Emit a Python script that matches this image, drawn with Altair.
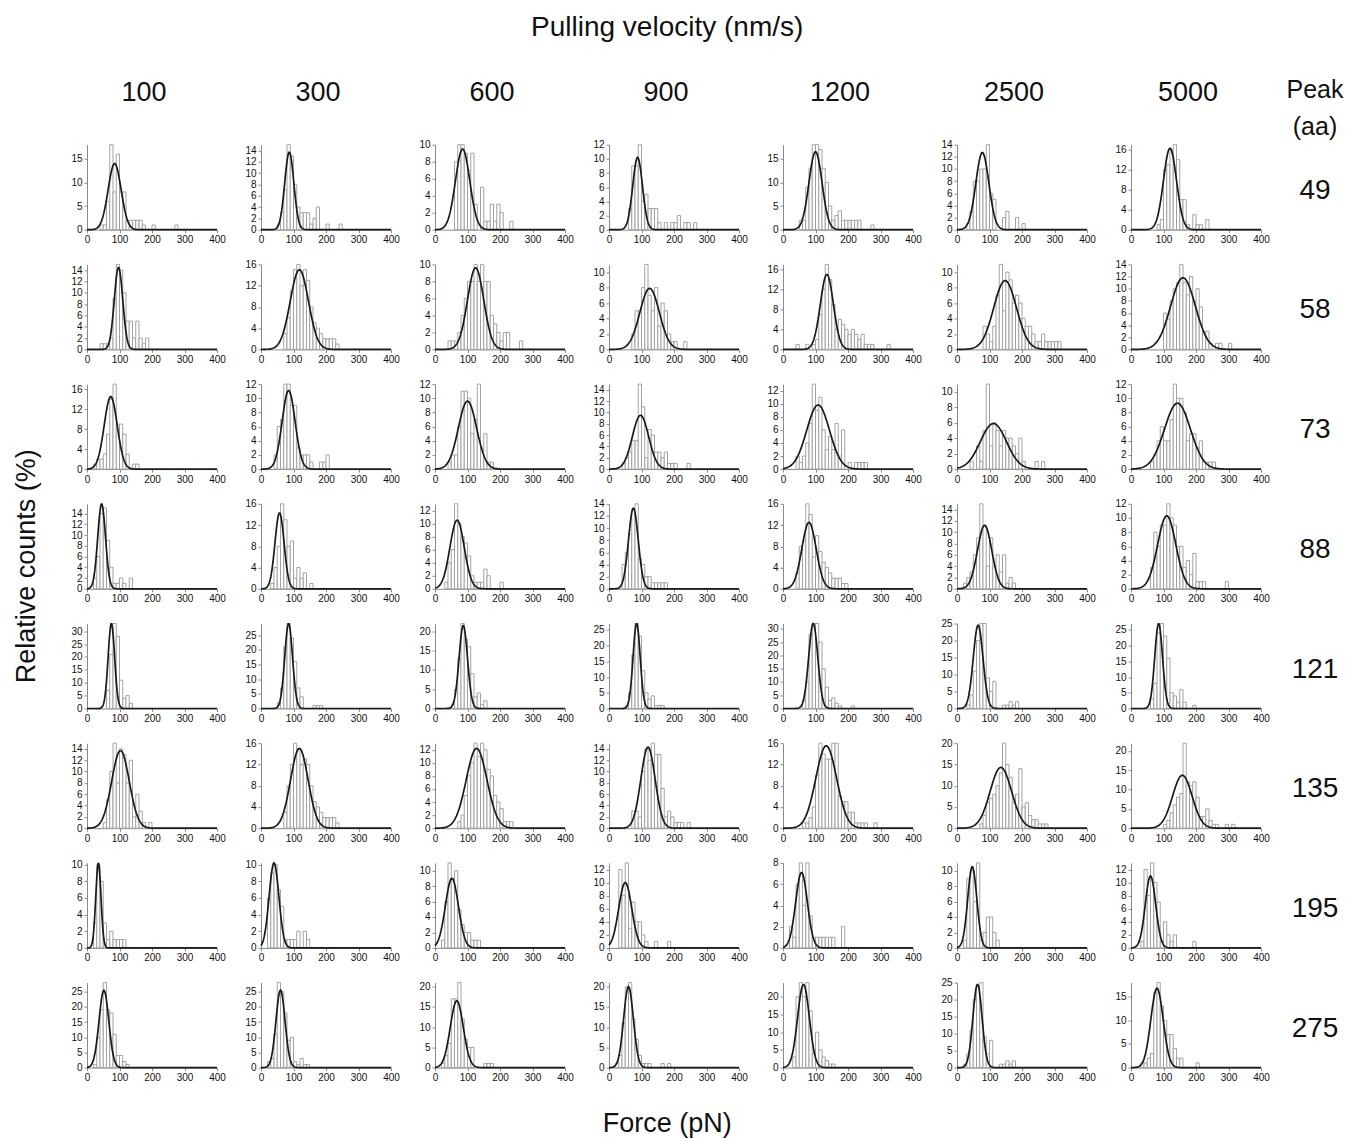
import altair as alt
import pandas as pd

FONT = "Liberation Sans"

VELOCITIES = ["100", "300", "600", "900", "1200", "2500", "5000"]
PEAKS = ["49", "58", "73", "88", "121", "135", "195", "275"]
X_TICKS = [0, 100, 200, 300, 400]
BIN = 10  # pN bin width

# relative counts (%) per 10-pN bin: {bin start (pN): percent}, one dict per velocity
HIST_49 = [
    {40: 1, 50: 1, 60: 6, 70: 18, 80: 8, 90: 16, 100: 8, 110: 8, 120: 2, 130: 2, 140: 2, 150: 2, 160: 2, 170: 1, 200: 1, 270: 1},
    {50: 1, 60: 3, 70: 7, 80: 15, 90: 13, 100: 8, 110: 4, 120: 3, 130: 3, 140: 3, 150: 1, 160: 2, 170: 4, 200: 1, 240: 1},
    {60: 8, 70: 10, 80: 10, 90: 9, 100: 7, 110: 9, 120: 3, 140: 5, 150: 1, 160: 1, 170: 3, 180: 1, 190: 3, 200: 2, 230: 1},
    {60: 3, 70: 9, 80: 9, 90: 12, 100: 4, 110: 5, 120: 3, 130: 3, 140: 3, 150: 1, 170: 1, 190: 1, 200: 1, 210: 2, 230: 1, 240: 1, 260: 1},
    {50: 2, 60: 2, 70: 9, 80: 13, 90: 18, 100: 18, 110: 17, 120: 13, 130: 10, 140: 5, 150: 2, 160: 3, 170: 4, 180: 2, 190: 2, 200: 2, 210: 2, 220: 2, 230: 2, 270: 1},
    {30: 1, 40: 3, 50: 8, 60: 8, 70: 10, 80: 10, 90: 14, 100: 6, 110: 5, 140: 2, 150: 3, 180: 2, 200: 1},
    {80: 1, 90: 2, 100: 12, 110: 13, 120: 16, 130: 17, 140: 14, 150: 6, 160: 6, 170: 1, 190: 3, 200: 1, 210: 1, 230: 2},
]
HIST_58 = [
    {40: 1, 50: 1, 60: 1, 70: 2, 80: 9, 90: 15, 100: 14, 110: 10, 120: 5, 130: 5, 140: 2, 150: 5, 160: 2, 170: 1, 180: 2},
    {70: 3, 80: 6, 90: 11, 100: 15, 110: 16, 120: 12, 130: 15, 140: 13, 150: 8, 160: 5, 170: 4, 180: 3, 190: 2, 200: 2, 210: 2, 220: 2, 230: 1},
    {40: 1, 50: 1, 60: 1, 70: 2, 80: 4, 90: 6, 100: 8, 110: 8, 120: 10, 130: 8, 140: 10, 150: 8, 160: 8, 170: 4, 180: 3, 190: 2, 200: 1, 210: 2, 220: 2, 260: 1},
    {70: 2, 80: 5, 90: 5, 100: 8, 110: 11, 120: 7, 130: 5, 140: 8, 150: 3, 160: 6, 170: 5, 180: 2, 190: 1, 200: 1, 230: 1},
    {40: 1, 70: 1, 90: 1, 100: 2, 110: 7, 120: 12, 130: 17, 140: 14, 150: 9, 160: 4, 170: 6, 180: 5, 190: 4, 200: 3, 210: 4, 220: 3, 230: 2, 240: 3, 250: 1, 260: 1, 270: 1, 320: 1},
    {80: 3, 90: 2, 100: 1, 110: 3, 120: 7, 130: 11, 140: 5, 150: 10, 160: 9, 170: 6, 180: 7, 190: 6, 200: 4, 210: 3, 220: 3, 230: 2, 240: 1, 250: 1, 260: 2, 270: 1, 280: 1, 290: 1, 300: 1, 310: 1},
    {100: 6, 110: 5, 120: 8, 130: 10, 140: 11, 150: 14, 160: 11, 170: 9, 180: 12, 190: 8, 200: 10, 210: 7, 220: 3, 230: 3, 240: 1, 260: 1, 270: 1, 300: 1},
]
HIST_73 = [
    {20: 1, 30: 2, 40: 2, 50: 3, 60: 7, 70: 14, 80: 17, 90: 9, 100: 9, 110: 7, 120: 3, 140: 1, 150: 1},
    {40: 2, 50: 6, 60: 7, 70: 12, 80: 12, 90: 9, 100: 9, 110: 3, 120: 2, 130: 2, 140: 2, 150: 1, 180: 1, 190: 1, 200: 2},
    {40: 1, 50: 2, 60: 2, 70: 6, 80: 11, 90: 11, 100: 10, 110: 5, 120: 7, 130: 12, 140: 3, 150: 5, 160: 1, 170: 1},
    {40: 1, 50: 2, 60: 3, 70: 5, 80: 5, 90: 15, 100: 11, 110: 2, 120: 7, 130: 6, 140: 3, 150: 3, 160: 2, 170: 3, 180: 1, 190: 1, 200: 1, 240: 1},
    {40: 2, 50: 1, 60: 2, 70: 4, 80: 7, 90: 13, 100: 9, 110: 11, 120: 6, 130: 3, 140: 5, 150: 3, 160: 7, 170: 2, 180: 6, 200: 1, 220: 1, 230: 1, 240: 1, 250: 1},
    {40: 1, 60: 3, 70: 1, 80: 5, 90: 11, 100: 3, 110: 6, 120: 5, 130: 3, 140: 5, 150: 4, 160: 4, 170: 3, 180: 2, 190: 4, 200: 1, 240: 1, 260: 1},
    {60: 1, 70: 2, 80: 4, 90: 6, 100: 4, 110: 4, 120: 7, 130: 12, 140: 10, 150: 10, 160: 8, 170: 4, 180: 5, 190: 5, 200: 3, 210: 4, 220: 1, 230: 1, 240: 1, 250: 1},
]
HIST_88 = [
    {20: 2, 30: 6, 40: 14, 50: 15, 60: 9, 70: 4, 80: 1, 90: 1, 100: 2, 110: 1, 130: 2},
    {30: 1, 40: 4, 50: 8, 60: 16, 70: 13, 80: 8, 90: 9, 100: 2, 110: 4, 120: 2, 130: 3, 150: 1},
    {30: 1, 40: 4, 50: 6, 60: 13, 70: 10, 80: 8, 90: 7, 100: 5, 110: 2, 120: 1, 130: 1, 140: 1, 150: 3, 160: 2, 200: 1},
    {40: 4, 50: 6, 60: 9, 70: 13, 80: 14, 90: 5, 100: 4, 110: 2, 120: 2, 130: 1, 140: 1, 150: 1, 160: 1, 170: 1},
    {40: 3, 50: 8, 60: 9, 70: 16, 80: 14, 90: 6, 100: 10, 110: 7, 120: 5, 130: 4, 140: 3, 150: 2, 160: 2, 170: 2, 180: 1, 190: 1},
    {20: 1, 30: 2, 40: 3, 50: 6, 60: 9, 70: 15, 80: 11, 90: 4, 100: 9, 110: 4, 120: 6, 130: 3, 140: 6, 150: 1, 160: 2, 170: 1},
    {60: 3, 70: 8, 80: 6, 90: 9, 100: 9, 110: 12, 120: 10, 130: 9, 140: 6, 150: 6, 160: 3, 170: 4, 180: 2, 190: 5, 200: 1, 210: 1, 220: 1, 290: 1},
]
HIST_121 = [
    {60: 7, 70: 21, 80: 33, 90: 28, 100: 11, 110: 4, 120: 5, 130: 2},
    {50: 2, 60: 7, 70: 21, 80: 29, 90: 24, 100: 16, 110: 7, 120: 4, 160: 1, 170: 1, 180: 1},
    {50: 1, 60: 5, 70: 13, 80: 22, 90: 18, 100: 16, 110: 9, 120: 3, 130: 4, 140: 1, 150: 2},
    {50: 1, 60: 5, 70: 17, 80: 27, 90: 23, 100: 12, 110: 5, 120: 3, 130: 4, 140: 1, 150: 1, 160: 1},
    {60: 3, 70: 10, 80: 28, 90: 32, 100: 32, 110: 25, 120: 15, 130: 8, 140: 3, 150: 4, 160: 2, 170: 1, 210: 1},
    {30: 1, 40: 4, 50: 11, 60: 20, 70: 25, 80: 25, 90: 9, 100: 5, 110: 8, 140: 1, 150: 1, 160: 2, 170: 1, 180: 2},
    {60: 3, 70: 8, 80: 24, 90: 27, 100: 23, 110: 16, 120: 5, 130: 4, 140: 2, 150: 6, 160: 2, 190: 1},
]
HIST_135 = [
    {50: 1, 60: 5, 70: 10, 80: 15, 90: 8, 100: 14, 110: 13, 120: 8, 130: 12, 140: 2, 150: 6, 160: 3, 170: 1, 190: 1},
    {70: 3, 80: 8, 90: 12, 100: 16, 110: 15, 120: 12, 130: 13, 140: 12, 150: 8, 160: 5, 170: 4, 180: 3, 190: 2, 200: 2, 210: 2, 220: 2, 230: 1},
    {70: 1, 80: 2, 90: 5, 100: 8, 110: 10, 120: 13, 130: 11, 140: 13, 150: 12, 160: 9, 170: 8, 180: 5, 190: 4, 200: 3, 210: 1, 220: 1, 230: 1},
    {70: 3, 80: 3, 90: 2, 100: 10, 110: 14, 120: 12, 130: 15, 140: 13, 150: 13, 160: 7, 170: 2, 180: 3, 190: 2, 200: 1, 210: 1, 220: 1, 240: 1},
    {60: 1, 70: 1, 80: 2, 90: 4, 100: 10, 110: 16, 120: 14, 130: 13, 140: 13, 150: 16, 160: 16, 170: 6, 180: 5, 190: 5, 200: 3, 210: 3, 220: 1, 230: 1, 240: 1, 250: 1, 280: 1},
    {70: 1, 80: 3, 90: 6, 100: 7, 110: 8, 120: 10, 130: 13, 140: 20, 150: 15, 160: 12, 170: 6, 180: 8, 190: 14, 200: 5, 210: 6, 220: 3, 230: 2, 240: 2, 250: 1, 260: 1, 270: 1},
    {100: 1, 110: 2, 120: 4, 130: 6, 140: 8, 150: 9, 160: 22, 170: 12, 180: 11, 190: 12, 200: 8, 210: 3, 220: 3, 230: 5, 240: 2, 250: 1, 260: 1, 290: 1, 310: 1},
]
HIST_195 = [
    {20: 3, 30: 10, 40: 8, 50: 3, 60: 1, 70: 2, 80: 1, 90: 1, 100: 1, 110: 1},
    {20: 6, 30: 9, 40: 10, 50: 7, 60: 5, 70: 1, 80: 1, 90: 1, 100: 1, 110: 2, 130: 2, 140: 1},
    {20: 1, 30: 6, 40: 11, 50: 9, 60: 10, 70: 5, 80: 3, 90: 2, 100: 2, 110: 1, 120: 1, 130: 1},
    {30: 12, 40: 8, 50: 13, 60: 3, 70: 7, 80: 4, 90: 4, 100: 2, 110: 1, 140: 1, 180: 1},
    {20: 2, 30: 1, 40: 6, 50: 8, 60: 4, 70: 8, 80: 3, 90: 1, 100: 1, 110: 1, 120: 1, 130: 1, 140: 1, 150: 1, 180: 2},
    {20: 1, 30: 9, 40: 10, 50: 6, 60: 11, 70: 1, 80: 2, 90: 4, 100: 4, 110: 2, 120: 1},
    {30: 1, 40: 12, 50: 8, 60: 13, 70: 10, 80: 7, 90: 1, 100: 4, 110: 2, 120: 1, 130: 2, 190: 1},
]
HIST_275 = [
    {20: 1, 30: 10, 40: 19, 50: 28, 60: 19, 70: 18, 80: 11, 90: 4, 100: 4, 110: 2, 120: 1},
    {20: 2, 30: 3, 40: 11, 50: 28, 60: 25, 70: 18, 80: 9, 90: 10, 100: 2, 110: 1, 120: 3, 130: 1, 140: 1},
    {20: 1, 30: 3, 40: 6, 50: 17, 60: 17, 70: 21, 80: 12, 90: 7, 100: 5, 110: 5, 150: 1, 160: 1, 170: 1},
    {20: 1, 30: 3, 40: 11, 50: 20, 60: 21, 70: 12, 80: 7, 90: 3, 100: 1, 110: 1, 120: 1, 160: 1, 180: 1},
    {30: 3, 40: 20, 50: 24, 60: 20, 70: 24, 80: 16, 90: 4, 100: 10, 110: 5, 120: 3, 130: 2, 140: 1, 150: 1},
    {20: 1, 30: 4, 40: 11, 50: 20, 60: 24, 70: 25, 80: 9, 90: 4, 100: 8, 130: 1, 140: 1, 150: 2, 160: 1, 170: 2},
    {30: 1, 40: 1, 50: 2, 60: 3, 70: 16, 80: 18, 90: 13, 100: 10, 110: 7, 120: 7, 130: 4, 140: 2, 150: 2, 200: 1},
]

# Gaussian fit per panel: (peak height %, mean force pN, sigma pN)
FIT_49 = [(14, 85, 20), (13.7, 87, 14), (9.5, 85, 22), (10.2, 88, 15), (16.5, 100, 20), (12.7, 78, 20), (16.3, 120, 20)]
FIT_58 = [(14.5, 97, 13), (15, 118, 28), (9.6, 125, 25), (7.9, 125, 30), (15, 135, 20), (8.9, 148, 35), (11.8, 160, 38)]
FIT_73 = [(14.5, 73, 20), (11.1, 85, 20), (9.6, 100, 28), (9.5, 97, 25), (9.8, 108, 35), (5.9, 112, 40), (9.3, 143, 40)]
FIT_88 = [(15.8, 45, 12), (14.3, 57, 14), (10.5, 68, 22), (13.3, 75, 15), (12.5, 80, 22), (11.2, 85, 22), (10.3, 110, 28)]
FIT_121 = [(33, 75, 10), (29, 85, 12), (21.5, 87, 13), (27, 85, 11), (32, 93, 14), (24.5, 65, 15), (27, 85, 12)]
FIT_135 = [(13.7, 103, 27), (15, 118, 27), (12.2, 128, 32), (14.3, 120, 22), (15.5, 133, 32), (14.3, 135, 33), (13.7, 158, 30)]
FIT_195 = [(10.2, 35, 8), (10.2, 40, 15), (9, 52, 20), (10, 50, 20), (7.1, 57, 18), (10.5, 47, 14), (11, 60, 16)]
FIT_275 = [(25.5, 52, 15), (25.5, 60, 14), (16.5, 67, 20), (20, 60, 15), (23.5, 63, 18), (24.5, 63, 14), (16.8, 80, 19)]

# y tick step per panel
YSTEP_49 = [5, 2, 2, 2, 5, 2, 4]
YSTEP_58 = [2, 4, 2, 2, 4, 2, 2]
YSTEP_73 = [4, 2, 2, 2, 2, 2, 2]
YSTEP_88 = [2, 4, 2, 2, 4, 2, 2]
YSTEP_121 = [5, 5, 5, 5, 5, 5, 5]
YSTEP_135 = [2, 4, 2, 2, 4, 5, 5]
YSTEP_195 = [2, 2, 2, 2, 2, 2, 2]
YSTEP_275 = [5, 5, 5, 5, 5, 5, 5]

HISTS = [HIST_49, HIST_58, HIST_73, HIST_88, HIST_121, HIST_135, HIST_195, HIST_275]
FITS = [FIT_49, FIT_58, FIT_73, FIT_88, FIT_121, FIT_135, FIT_195, FIT_275]
YSTEPS = [YSTEP_49, YSTEP_58, YSTEP_73, YSTEP_88, YSTEP_121, YSTEP_135, YSTEP_195, YSTEP_275]

W, H = 130, 85
AXIS_GRAY = "#8a8a8a"


def panel(hist, fit, step):
    amp, mu, sd = fit
    ymax = max(max(hist.values()), amp)
    ticks = []
    k = 0
    while k * step <= ymax + 1e-9:
        ticks.append(k * step)
        k += 1
    df = pd.DataFrame({"force": list(hist.keys()), "pct": list(hist.values())})
    xs = alt.Scale(domain=[0, 400], nice=False, zero=False)
    ys = alt.Scale(domain=[0, ymax], nice=False, zero=True)
    xaxis = alt.Axis(values=X_TICKS, title=None, grid=False, labelFont=FONT, labelFontSize=10,
                     labelColor="#111", tickColor=AXIS_GRAY, domainColor=AXIS_GRAY, tickSize=3,
                     labelPadding=2, labelFlush=False)
    yaxis = alt.Axis(values=ticks, title=None, grid=False, labelFont=FONT, labelFontSize=10,
                     labelColor="#111", tickColor=AXIS_GRAY, domainColor=AXIS_GRAY, tickSize=3,
                     labelPadding=2, labelFlush=False)
    bars = alt.Chart(df).mark_bar(fill="white", stroke="#9a9a9a", strokeWidth=0.9).transform_calculate(
        force2=f"datum.force + {BIN}"
    ).encode(
        x=alt.X("force:Q", scale=xs, axis=xaxis),
        x2="force2:Q",
        y=alt.Y("pct:Q", scale=ys, axis=yaxis),
        y2=alt.datum(0),
    )
    curve = alt.Chart(alt.sequence(0, 401, 2, as_="force")).transform_calculate(
        fit=f"{amp} * exp(-pow(datum.force - {mu}, 2) / (2 * {sd} * {sd}))"
    ).mark_line(color="#1a1a1a", strokeWidth=1.7).encode(
        x=alt.X("force:Q", scale=xs, axis=xaxis),
        y=alt.Y("fit:Q", scale=ys, axis=yaxis),
    )
    return alt.layer(bars, curve).properties(width=W, height=H)


def text_cell(label, x, y, size, width, height, baseline="middle"):
    return alt.Chart(pd.DataFrame({"t": [label]})).mark_text(
        font=FONT, fontSize=size, align="center", baseline=baseline, color="#111"
    ).encode(text="t:N", x=alt.value(x), y=alt.value(y)).properties(width=width, height=height)


cells = []
HEAD_H = 30
for v in VELOCITIES:
    cells.append(text_cell(v, 57, 13, 27, W, HEAD_H))
cells.append(alt.layer(
    text_cell("Peak", 10, 10, 25, 24, HEAD_H),
    text_cell("(aa)", 10, 47, 25, 24, HEAD_H),
))
for r, peak in enumerate(PEAKS):
    for c in range(len(VELOCITIES)):
        cells.append(panel(HISTS[r][c], FITS[r][c], YSTEPS[r][c]))
    cells.append(text_cell(peak, 10, 46, 28, 24, H))

grid = alt.concat(*cells, columns=8, spacing={"row": 34.7, "column": 44}, bounds="flush", align="each")

left = alt.hconcat(grid).properties(
    title=alt.TitleParams("Relative counts (%)", orient="left", anchor="middle", font=FONT,
                          fontSize=27, fontWeight="normal", color="#111", offset=30, dx=14)
)
bottom = alt.vconcat(left).properties(
    title=alt.TitleParams("Force (pN)", orient="bottom", anchor="middle", font=FONT,
                          fontSize=27, fontWeight="normal", color="#111", offset=28, dx=-11)
)
chart = alt.vconcat(bottom).properties(
    title=alt.TitleParams("Pulling velocity (nm/s)", orient="top", anchor="middle", font=FONT,
                          fontSize=28, fontWeight="normal", color="#111", offset=36, dx=-11),
    padding={"left": 12, "top": 14, "right": 5, "bottom": 2},
).configure_view(stroke=None).configure_axis(grid=False)

chart.save("out.html", embed_options={"renderer": "svg", "actions": False})
